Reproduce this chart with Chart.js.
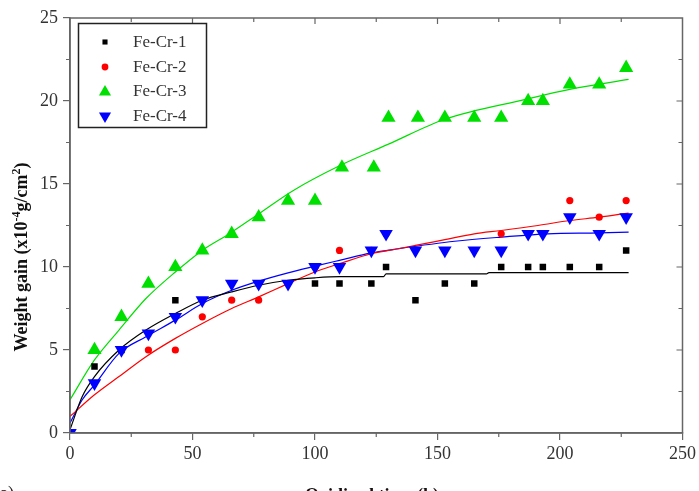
<!DOCTYPE html>
<html>
<head>
<meta charset="utf-8">
<script src="https://cdn.jsdelivr.net/npm/chart.js@4.4.1/dist/chart.umd.min.js"></script>
<style>
  html, body { margin: 0; padding: 0; background: #fff; }
  #wrap { width: 699px; height: 491px; position: relative; }
</style>
</head>
<body>
<div id="wrap"><canvas id="chart" width="699" height="491"></canvas></div>
<script>
// measured points (time in h, weight gain x10^-4 g/cm2)
const crX1 = [10, 21, 43, 100, 110, 123, 129, 141, 153, 165, 176, 187, 193, 204, 216, 227];
const crY1 = [4, 5, 8, 9, 9, 9, 10, 8, 9, 9, 10, 10, 10, 10, 10, 11];

const crX2 = [32, 43, 54, 66, 77, 100, 110, 123, 129, 176, 204, 216, 227];
const crY2 = [5, 5, 7, 8, 8, 10, 11, 11, 12, 12, 14, 13, 14];

const crX3 = [10, 21, 32, 43, 54, 66, 77, 89, 100, 111, 124, 130, 142, 153, 165, 176, 187, 193, 204, 216, 227];
const crY3 = [5, 7, 9, 10, 11, 12, 13, 14, 14, 16, 16, 19, 19, 19, 19, 19, 20, 20, 21, 21, 22];

const crX4 = [0, 10, 21, 32, 43, 54, 66, 77, 89, 100, 110, 123, 129, 141, 153, 165, 176, 187, 193, 204, 216, 227];
const crY4 = [0, 3, 5, 6, 7, 8, 9, 9, 9, 10, 10, 11, 12, 11, 11, 11, 11, 12, 12, 13, 12, 13];

// fitted curves
const fitX1 = [0, 5, 10, 20, 31, 43, 54, 66, 77, 89, 100, 110, 128, 129, 170, 171, 228];
const fitY1 = [0.2, 2.2, 3.4, 5.0, 6.2, 7.2, 8.0, 8.5, 8.9, 9.2, 9.35, 9.42, 9.42, 9.58, 9.58, 9.66, 9.66];

const fitX2 = [0, 10, 20, 31, 43, 54, 66, 77, 89, 100, 110, 123, 134, 141, 153, 165, 176, 191, 204, 216, 228];
const fitY2 = [1.0, 2.3, 3.4, 4.6, 5.7, 6.6, 7.5, 8.2, 9.0, 9.7, 10.2, 10.8, 11.1, 11.3, 11.65, 12.0, 12.2, 12.5, 12.8, 13.0, 13.25];

const fitX3 = [0, 10, 20, 31, 43, 54, 65, 77, 91, 110, 130, 153, 186, 204, 228];
const fitY3 = [2.0, 4.4, 6.2, 8.1, 9.7, 11.0, 12.0, 13.2, 14.6, 16.1, 17.4, 18.9, 20.1, 20.7, 21.3];

const fitX4 = [0, 5, 10, 20, 31, 43, 54, 66, 77, 89, 100, 110, 123, 134, 157, 176, 195, 216, 228];
const fitY4 = [0.6, 2.0, 2.9, 4.8, 5.8, 6.8, 7.8, 8.6, 9.15, 9.65, 10.05, 10.4, 10.85, 11.1, 11.55, 11.8, 12.0, 12.05, 12.1];

const seriesNames = ['Fe-Cr-1', 'Fe-Cr-2', 'Fe-Cr-3', 'Fe-Cr-4'];
const seriesColors = ['#000000', '#ff0000', '#00e000', '#0000ff'];

const xTicks = [0, 50, 100, 150, 200, 250];
const yTicks = [0, 5, 10, 15, 20, 25];

const pts = (xs, ys) => xs.map((x, i) => ({ x: x, y: ys[i] }));

const AXIS = '#666666';
const SERIF = '"Liberation Serif", "DejaVu Serif", serif';

const markers = [
  { pointStyle: 'rect', radius: 4.6, rotation: 0 },
  { pointStyle: 'circle', radius: 3.6, rotation: 0 },
  { pointStyle: 'triangle', radius: 8.2, rotation: 0 },
  { pointStyle: 'triangle', radius: 7.8, rotation: 180 }
];

const fitSets = [[fitX1, fitY1], [fitX2, fitY2], [fitX3, fitY3], [fitX4, fitY4]];
const pointSets = [[crX1, crY1], [crX2, crY2], [crX3, crY3], [crX4, crY4]];

const datasets = [];
fitSets.forEach((s, i) => {
  datasets.push({
    label: seriesNames[i] + ' fit',
    data: pts(s[0], s[1]),
    showLine: true,
    borderColor: seriesColors[i],
    borderWidth: 1.2,
    pointRadius: 0,
    cubicInterpolationMode: 'monotone',
    order: 10
  });
});
pointSets.forEach((s, i) => {
  datasets.push({
    label: seriesNames[i],
    data: pts(s[0], s[1]),
    showLine: false,
    backgroundColor: seriesColors[i],
    borderColor: seriesColors[i],
    borderWidth: 0,
    pointStyle: markers[i].pointStyle,
    pointRadius: markers[i].radius,
    rotation: markers[i].rotation,
    order: 4 - i
  });
});

// frame, minor ticks, opposite-side ticks, titles, legend
const decorPlugin = {
  id: 'decor',
  afterDraw(chart) {
    const ctx = chart.ctx;
    const xs = chart.scales.x, ys = chart.scales.y;
    const a = chart.chartArea;
    ctx.save();
    ctx.strokeStyle = AXIS;
    ctx.lineWidth = 1.5;
    ctx.strokeRect(a.left, a.top, a.right - a.left, a.bottom - a.top);

    ctx.lineWidth = 1.2;
    ctx.beginPath();
    for (let v = 0; v <= 250; v += 25) {
      const px = xs.getPixelForValue(v);
      const major = v % 50 === 0;
      if (!major) { ctx.moveTo(px, a.bottom); ctx.lineTo(px, a.bottom + 4); }
      if (v > 0 && v < 250) { ctx.moveTo(px, a.top); ctx.lineTo(px, a.top + (major ? 6 : 4)); }
    }
    for (let v = 0; v <= 25; v += 2.5) {
      const py = ys.getPixelForValue(v);
      const major = v % 5 === 0;
      if (!major) { ctx.moveTo(a.left, py); ctx.lineTo(a.left - 4, py); }
      if (v > 0 && v < 25) { ctx.moveTo(a.right, py); ctx.lineTo(a.right - (major ? 6 : 4), py); }
    }
    ctx.stroke();

    // y title
    ctx.fillStyle = '#111';
    ctx.save();
    ctx.translate(27, 257);
    ctx.rotate(-Math.PI / 2);
    const parts = [
      ['Weight gain (x10', 18, 0],
      ['-4', 12, -7],
      ['g/cm', 18, 0],
      ['2', 12, -7],
      [')', 18, 0]
    ];
    let total = 0;
    parts.forEach(p => { ctx.font = 'bold ' + p[1] + 'px ' + SERIF; total += ctx.measureText(p[0]).width; });
    let cx = -total / 2;
    ctx.textBaseline = 'alphabetic';
    ctx.textAlign = 'left';
    parts.forEach(p => {
      ctx.font = 'bold ' + p[1] + 'px ' + SERIF;
      ctx.fillText(p[0], cx, p[2]);
      cx += ctx.measureText(p[0]).width;
    });
    ctx.restore();

    // x title and panel label
    ctx.font = 'bold 18px ' + SERIF;
    ctx.textAlign = 'center';
    ctx.textBaseline = 'alphabetic';
    ctx.fillText('Oxidized time (h)', 372, 501);
    ctx.font = '18px ' + SERIF;
    ctx.textAlign = 'left';
    ctx.fillStyle = '#222';
    ctx.fillText('(a)', -6, 499);

    // legend box
    ctx.strokeStyle = '#222';
    ctx.lineWidth = 1.5;
    ctx.strokeRect(78.5, 23.5, 128, 104);
    const rowY = [42, 67, 91, 116];
    const legR = [3.6, 3.4, 7, 7];
    ctx.font = '17px ' + SERIF;
    ctx.textBaseline = 'middle';
    seriesNames.forEach((name, i) => {
      ctx.fillStyle = seriesColors[i];
      ctx.strokeStyle = seriesColors[i];
      Chart.helpers.drawPoint(ctx, {
        pointStyle: markers[i].pointStyle,
        rotation: markers[i].rotation,
        radius: legR[i],
        borderWidth: 0
      }, 105, rowY[i] + (i === 2 ? 1 : 0));
      ctx.fillStyle = '#333';
      ctx.fillText(name, 133, rowY[i] + 1);
    });
    ctx.restore();
  }
};

new Chart(document.getElementById('chart'), {
  type: 'scatter',
  data: { datasets: datasets },
  options: {
    responsive: false,
    animation: false,
    devicePixelRatio: 1,
    layout: { padding: { top: 18, right: 15, left: 0, bottom: 0 } },
    plugins: {
      legend: { display: false },
      tooltip: { enabled: false }
    },
    scales: {
      x: {
        type: 'linear',
        min: 0,
        max: 250,
        afterBuildTicks: s => { s.ticks = xTicks.map(v => ({ value: v })); },
        afterFit: s => { s.height = 58; },
        border: { display: true, color: AXIS, width: 1.5 },
        grid: { drawOnChartArea: false, drawTicks: true, tickLength: 7, color: AXIS, lineWidth: 1.2 },
        ticks: { color: '#333', padding: 3, maxRotation: 0, font: { family: SERIF, size: 18 } }
      },
      y: {
        type: 'linear',
        min: 0,
        max: 25,
        afterBuildTicks: s => { s.ticks = yTicks.map(v => ({ value: v })); },
        afterFit: s => { s.width = 70; },
        border: { display: true, color: AXIS, width: 1.5 },
        grid: { drawOnChartArea: false, drawTicks: true, tickLength: 7, color: AXIS, lineWidth: 1.2 },
        ticks: { color: '#333', padding: 5, font: { family: SERIF, size: 18 } }
      }
    }
  },
  plugins: [decorPlugin]
});
</script>
</body>
</html>
